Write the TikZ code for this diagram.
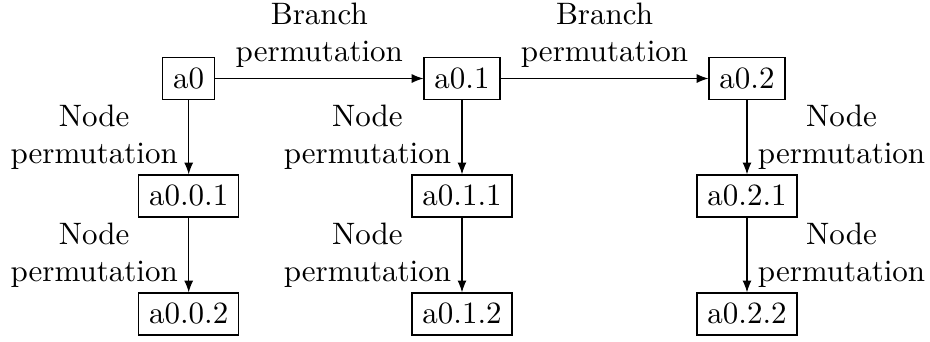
\documentclass[tikz,border=0pt]{standalone}
\usetikzlibrary{arrows.meta}
\begin{document}
\begin{tikzpicture}[x=0.3226pt,y=-0.3226pt,
  state/.style={draw, rectangle},
  link/.style={-{Latex[length=3.8pt,width=2.9pt]}},
  tag/.style={align=center}]
\useasboundingbox (0,0) rectangle (930,341);
% top row: branch permutations
\node[state] (a0)  at (188.7,78.5) {a0};
\node[state] (a01) at (462,78.5) {a0.1};
\node[state] (a02) at (747,78.5) {a0.2};
% second row
\node[state] (a001) at (188.7,196) {a0.0.1};
\node[state] (a011) at (462,196) {a0.1.1};
\node[state] (a021) at (747,196) {a0.2.1};
% third row
\node[state] (a002) at (188.7,314) {a0.0.2};
\node[state] (a012) at (462,314) {a0.1.2};
\node[state] (a022) at (747,314) {a0.2.2};
% branch permutation arrows
\draw[link] (a0) -- node[above,tag] {Branch\\permutation} (a01);
\draw[link] (a01) -- node[above,tag] {Branch\\permutation} (a02);
% node permutation arrows
\draw[link] (a0) -- node[left,tag] {Node\\permutation} (a001);
\draw[link] (a001) -- node[left,tag] {Node\\permutation} (a002);
\draw[link] (a01) -- node[left,tag] {Node\\permutation} (a011);
\draw[link] (a011) -- node[left,tag] {Node\\permutation} (a012);
\draw[link] (a02) -- node[right,tag] {Node\\permutation} (a021);
\draw[link] (a021) -- node[right,tag] {Node\\permutation} (a022);
\end{tikzpicture}
\end{document}
